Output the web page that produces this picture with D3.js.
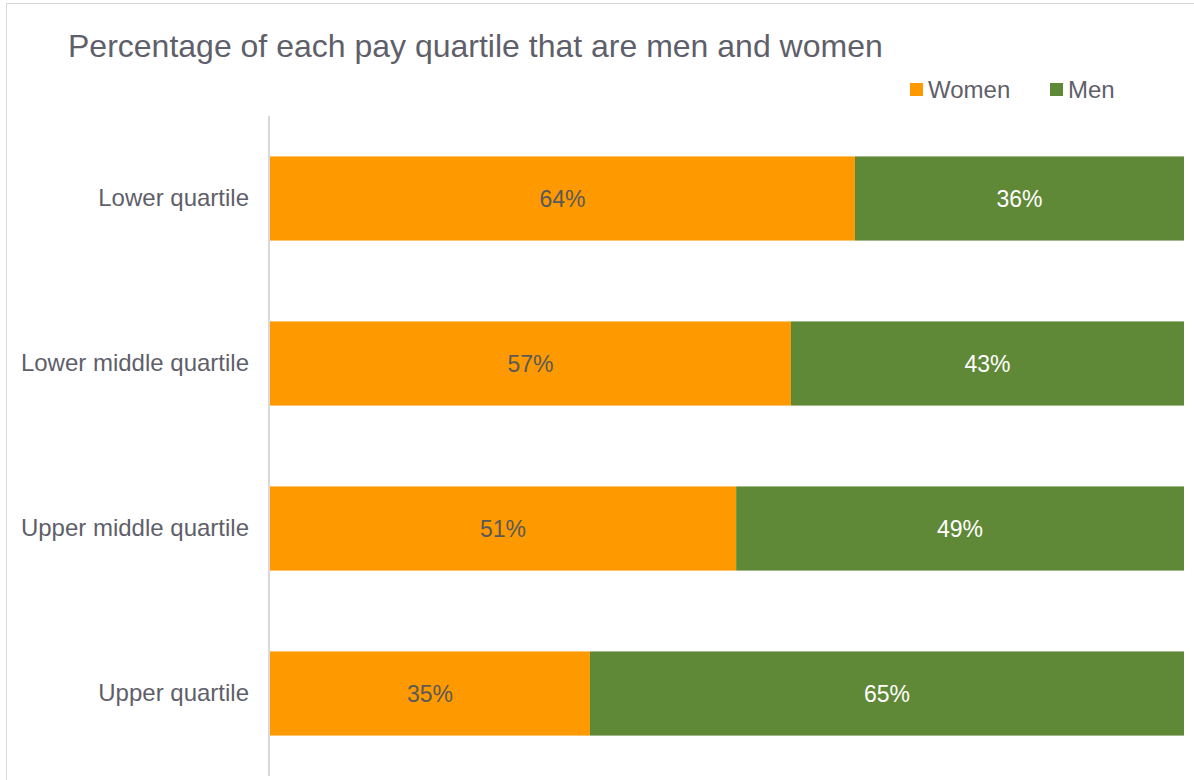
<!DOCTYPE html>
<html>
<head>
<meta charset="utf-8">
<script src="https://cdn.jsdelivr.net/npm/d3@7"></script>
<style>
  body { margin: 0; background: #fff; }
  text { font-family: "Liberation Sans", Arial, sans-serif; }
</style>
</head>
<body>
<div id="chart"></div>
<script>
var quartiles = ['Lower quartile', 'Lower middle quartile', 'Upper middle quartile', 'Upper quartile']
var women = [64, 57, 51, 35]
var men = [36, 43, 49, 65]
var seriesNames = ['Women', 'Men']
var seriesColors = ['#ff9900', '#5f8837']
var labelColors = ['#595959', '#ffffff']

var width = 1194
var height = 780
var plotLeft = 270
var plotRight = 1184
var plotTop = 116
var plotBottom = 776

var svg = d3.select('#chart').append('svg')
  .attr('width', width)
  .attr('height', height)

// chart frame
svg.append('rect')
  .attr('x', 6.5).attr('y', 3.5)
  .attr('width', width + 10).attr('height', height + 10)
  .attr('fill', 'none')
  .attr('stroke', '#d9d9d9')

svg.append('text')
  .attr('x', 68).attr('y', 57)
  .attr('font-size', 32)
  .attr('fill', '#5f5f6b')
  .text('Percentage of each pay quartile that are men and women')

var x = d3.scaleLinear().domain([0, 100]).range([plotLeft, plotRight])
var y = d3.scaleBand().domain(quartiles).range([plotTop, plotBottom]).paddingInner(0.49).paddingOuter(0.245)

var rows = quartiles.map(function (q, i) {
  return { q: q, values: [women[i], men[i]] }
})
var stack = d3.stack().keys([0, 1]).value(function (d, k) { return d.values[k] })(rows)

var layer = svg.append('g').selectAll('g')
  .data(stack)
  .enter().append('g')
  .attr('fill', function (d, i) { return seriesColors[i] })

layer.selectAll('rect')
  .data(function (d) { return d })
  .enter().append('rect')
  .attr('x', function (d) { return x(d[0]) })
  .attr('y', function (d) { return y(d.data.q) })
  .attr('width', function (d) { return x(d[1]) - x(d[0]) })
  .attr('height', y.bandwidth())

layer.selectAll('text')
  .data(function (d, i) { return d.map(function (e) { return { e: e, i: i } }) })
  .enter().append('text')
  .attr('x', function (d) { return (x(d.e[0]) + x(d.e[1])) / 2 })
  .attr('y', function (d) { return y(d.e.data.q) + y.bandwidth() / 2 })
  .attr('dy', '0.35em')
  .attr('text-anchor', 'middle')
  .attr('font-size', 23)
  .attr('fill', function (d) { return labelColors[d.i] })
  .text(function (d) { return (d.e[1] - d.e[0]) + '%' })

// category axis
var yAxis = svg.append('g')
  .attr('transform', 'translate(' + plotLeft + ',0)')
  .call(d3.axisLeft(y).tickSize(0).tickPadding(21))
yAxis.select('.domain').remove()
yAxis.selectAll('text')
  .attr('font-size', 24)
  .attr('fill', '#5f5f6b')
  .style('font-family', '"Liberation Sans", Arial, sans-serif')

svg.append('line')
  .attr('x1', plotLeft - 1).attr('x2', plotLeft - 1)
  .attr('y1', plotTop).attr('y2', plotBottom)
  .attr('stroke', '#d9d9d9')
  .attr('stroke-width', 2)

// legend
var legendX = [910, 1050]
var legend = svg.append('g').selectAll('g')
  .data(seriesNames)
  .enter().append('g')
  .attr('transform', function (d, i) { return 'translate(' + legendX[i] + ',83)' })
legend.append('rect')
  .attr('width', 13).attr('height', 13)
  .attr('fill', function (d, i) { return seriesColors[i] })
legend.append('text')
  .attr('x', 18).attr('y', 6.5)
  .attr('dy', '0.35em')
  .attr('font-size', 24)
  .attr('fill', '#5f5f6b')
  .text(function (d) { return d })
</script>
</body>
</html>
